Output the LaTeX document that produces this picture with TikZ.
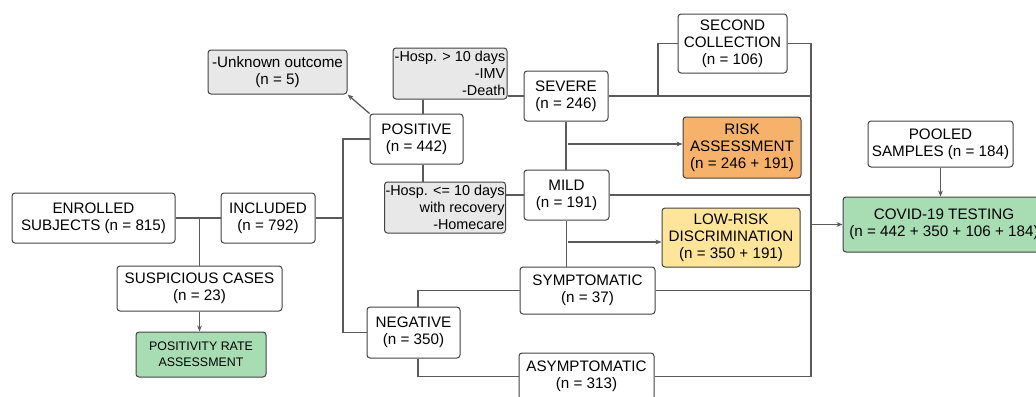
\documentclass[tikz,border=0pt]{standalone}
\usepackage{fontspec}
\setmainfont{Liberation Sans}
\usetikzlibrary{arrows.meta,positioning}
\definecolor{myline}{RGB}{67,67,67}
\definecolor{mywire}{RGB}{90,90,90}
\definecolor{mygray}{RGB}{232,232,232}
\definecolor{myorange}{RGB}{246,178,107}
\definecolor{myyellow}{RGB}{255,229,153}
\definecolor{mygreen}{RGB}{168,221,180}

\begin{document}
\begin{tikzpicture}[
    x=0.5pt,y=-0.5pt,
    box/.style={draw=myline,line width=0.5pt,rounded corners=1.5pt,fill=white,font=\fontsize{7.6}{8.5}\selectfont,align=center,inner sep=1pt},
    note/.style={box,fill=mygray,align=right,inner sep=0.5pt,font=\fontsize{7.2}{8.5}\selectfont},
    wire/.style={mywire,line width=0.65pt},
    arr/.style={wire,-{Stealth[length=3pt,width=2.4pt]}}
]
\useasboundingbox (0,0) rectangle (1036,396);
\clip (0,0) rectangle (1036,396);

% left part
\node[box,minimum width=81.5pt,minimum height=25pt] (enrolled) at (93.5,218) {ENROLLED\\SUBJECTS (n = 815)};
\node[box,minimum width=47pt,minimum height=25pt] (included) at (268,218) {INCLUDED\\(n = 792)};
\node[box,minimum width=82.5pt,minimum height=22.5pt] (suspicious) at (199.5,288.5) {SUSPICIOUS CASES\\(n = 23)};
\node[box,fill=mygreen,minimum width=65pt,minimum height=22.5pt,font=\fontsize{6.2}{8}\selectfont] (positivity) at (201,354.5) {POSITIVITY RATE\\ASSESSMENT};

% positive / negative
\node[box,minimum width=46.5pt,minimum height=25pt] (positive) at (416.5,139) {POSITIVE\\(n = 442)};
\node[box,minimum width=46.5pt,minimum height=25.5pt] (negative) at (413.5,332.5) {NEGATIVE\\(n = 350)};
\node[note,align=center,font=\fontsize{7.6}{8.5}\selectfont,minimum width=69.5pt,minimum height=22pt] (unknown) at (277.5,72) {-Unknown outcome\\(n = 5)};
\node[note,minimum width=57pt,minimum height=25.5pt] (sevcrit) at (450,73.5) {-Hosp. > 10 days\\-IMV\\-Death};
\node[note,minimum width=58pt,minimum height=25.5pt] (mildcrit) at (445,207.5) {-Hosp. <= 10 days\\with recovery\\-Homecare};

% severity
\node[box,minimum width=42pt,minimum height=25pt] (severe) at (566,96) {SEVERE\\(n = 246)};
\node[box,minimum width=42.5pt,minimum height=25pt] (mild) at (566.5,195) {MILD\\(n = 191)};
\node[box,minimum width=67.5pt,minimum height=23.5pt] (sympt) at (587.5,290.5) {SYMPTOMATIC\\(n = 37)};
\node[box,minimum width=67.5pt,minimum height=23.5pt] (asympt) at (586.5,376.5) {ASYMPTOMATIC\\(n = 313)};
\node[box,minimum width=54.5pt,minimum height=29.5pt] (second) at (732.5,43.5) {SECOND\\COLLECTION\\(n = 106)};
\node[box,fill=myorange,minimum width=59pt,minimum height=30.5pt] (risk) at (742,147.5) {RISK\\ASSESSMENT\\(n = 246 + 191)};
\node[box,fill=myyellow,minimum width=69pt,minimum height=29.5pt] (lowrisk) at (731,237.5) {LOW-RISK\\DISCRIMINATION\\(n = 350 + 191)};

% testing
\node[box,minimum width=72.5pt,minimum height=23pt] (pooled) at (940.5,144) {POOLED\\SAMPLES (n = 184)};
\node[box,fill=mygreen,minimum width=101pt,minimum height=27.5pt] (covid) at (944,224.5) {COVID-19 TESTING\\(n = 442 + 350 + 106 + 184)};

\coordinate (incbus) at (343,218);
\coordinate (pstem) at (423,0);
\coordinate (negstem) at (418,0);
\coordinate (secjoin) at (658,96);
\coordinate (riskjoin) at (568,144);
\coordinate (lowjoin) at (568,242);
\coordinate (bus) at (811,0);

% connectors
\draw[wire] (enrolled) -- (included);
\draw[wire] (enrolled.east -| suspicious.north) -- (suspicious.north);
\draw[arr] (suspicious.south) -- (suspicious.south |- positivity.north);
\draw[wire] (included.east) -- (incbus);
\draw[wire] (positive.west) -| (incbus) |- (negative.west);
\draw[arr] (positive.north west) -- (unknown.south east);
\draw[wire] (sevcrit.south -| pstem) -- (positive.north -| pstem);
\draw[wire] (positive.south -| pstem) -- (mildcrit.north -| pstem);
\draw[wire] (sevcrit.east |- severe.west) -- (severe.west);
\draw[wire] (mildcrit.east |- mild.west) -- (mild.west);
\draw[wire] (negative.north -| negstem) |- (sympt.west);
\draw[wire] (negative.south -| negstem) |- (asympt.west);
\draw[wire] (severe.south) -- (severe.south |- mild.north);
\draw[wire] (mild.south) -- (mild.south |- sympt.north);
\draw[arr] (riskjoin) -- (riskjoin -| risk.west);
\draw[arr] (lowjoin) -- (lowjoin -| lowrisk.west);
\draw[wire] (second.west) -| (secjoin);
\draw[wire] (second.east) -| (asympt.east -| bus);
\foreach \n in {severe,mild,sympt,asympt}
    \draw[wire] (\n.east) -- (\n.east -| bus);
\draw[arr] (covid.west -| bus) -- (covid.west);
\draw[arr] (pooled.south) -- (pooled.south |- covid.north);
\end{tikzpicture}
\end{document}
